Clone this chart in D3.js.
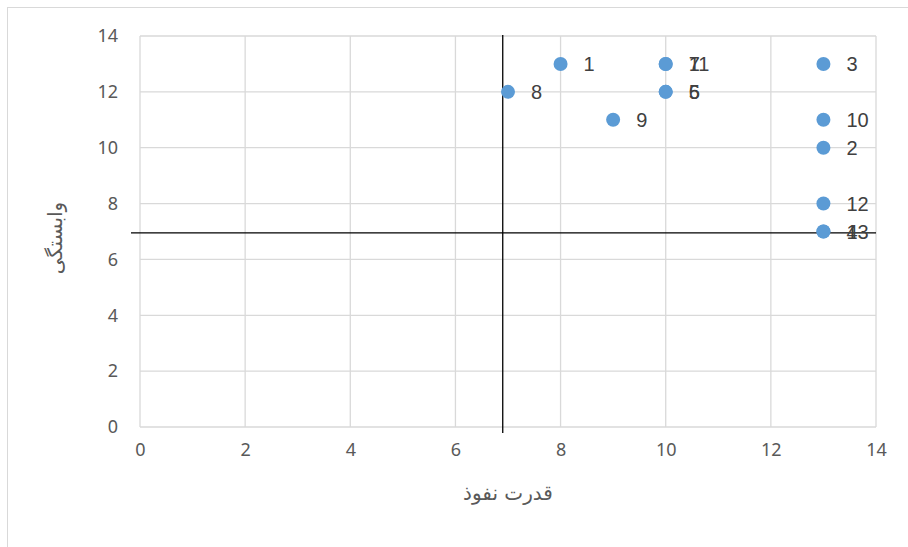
<!DOCTYPE html>
<html>
<head>
<meta charset="utf-8">
<script src="https://cdn.jsdelivr.net/npm/d3@7"></script>
<style>
  body { margin: 0; background: #fff; }
</style>
</head>
<body>
<script>
// point labels and their coordinates
let labels = ["1", "2", "3", "4", "5", "6", "7", "8", "9", "10", "11", "12", "13"];
let xValues = [8, 13, 13, 13, 10, 10, 10, 7, 9, 13, 10, 13, 13];
let yValues = [13, 10, 13, 7, 12, 12, 13, 12, 11, 11, 13, 8, 7];
let xTicks = [0, 2, 4, 6, 8, 10, 12, 14];
let yTicks = [0, 2, 4, 6, 8, 10, 12, 14];
// quadrant dividers
let xDivider = [6.9];
let yDivider = [6.95];
let xTitle = "قدرت نفوذ";
let yTitle = "وابستگی";

let WIDTH = 908, HEIGHT = 547;
let margin = {left: 140, right: 32, top: 36, bottom: 120};

let svg = d3.select("body").append("svg")
    .attr("width", WIDTH)
    .attr("height", HEIGHT);

// outer chart frame
svg.append("rect")
    .attr("x", 7.5).attr("y", 7.5)
    .attr("width", WIDTH + 20).attr("height", HEIGHT + 20)
    .attr("fill", "none")
    .attr("stroke", "#d9d9d9");

let x = d3.scaleLinear().domain([0, 14]).range([margin.left, WIDTH - margin.right]);
let y = d3.scaleLinear().domain([0, 14]).range([HEIGHT - margin.bottom, margin.top]);

// gridlines
let grid = svg.append("g");
grid.selectAll("line.v").data(xTicks).enter().append("line")
    .attr("x1", d => x(d)).attr("x2", d => x(d))
    .attr("y1", y(0)).attr("y2", y(14))
    .attr("stroke", "#d9d9d9").attr("stroke-width", 1.3);
grid.selectAll("line.h").data(yTicks).enter().append("line")
    .attr("x1", x(0)).attr("x2", x(14))
    .attr("y1", d => y(d)).attr("y2", d => y(d))
    .attr("stroke", "#d9d9d9").attr("stroke-width", 1.3);

// tick labels
let tickFont = "'Noto Sans', 'Open Sans', sans-serif";
let xAxis = d3.axisBottom(x).tickValues(xTicks).tickSize(0).tickPadding(16);
let gx = svg.append("g").attr("transform", `translate(0,${y(0)})`).call(xAxis);
let yAxis = d3.axisLeft(y).tickValues(yTicks).tickSize(0).tickPadding(22);
let gy = svg.append("g").attr("transform", `translate(${x(0)},0)`).call(yAxis);
[gx, gy].forEach(g => {
    g.select(".domain").remove();
    g.selectAll("text")
        .attr("fill", "#595959")
        .style("font-family", tickFont)
        .style("font-size", "18px");
});

// quadrant lines
svg.selectAll("line.xdiv").data(xDivider).enter().append("line")
    .attr("x1", d => x(d)).attr("x2", d => x(d))
    .attr("y1", y(14) - 1).attr("y2", y(0) + 6)
    .attr("stroke", "#000").attr("stroke-width", 1.3);
svg.selectAll("line.ydiv").data(yDivider).enter().append("line")
    .attr("x1", x(0) - 9).attr("x2", x(14))
    .attr("y1", d => y(d)).attr("y2", d => y(d))
    .attr("stroke", "#000").attr("stroke-width", 1.3);

// points
let data = labels.map((l, i) => ({label: l, x: xValues[i], y: yValues[i]}));
svg.append("g").selectAll("circle").data(data).enter().append("circle")
    .attr("cx", d => x(d.x)).attr("cy", d => y(d.y))
    .attr("r", 7)
    .attr("fill", "#5b9bd5");

// data labels (they overlap where points coincide, as in the original)
svg.append("g").selectAll("text").data(data).enter().append("text")
    .attr("x", d => x(d.x) + 23)
    .attr("y", d => y(d.y))
    .attr("dy", "0.36em")
    .attr("fill", "#404040")
    .style("font-family", "'Liberation Sans', Arial, sans-serif")
    .style("font-size", "20px")
    .text(d => d.label);

// axis titles
svg.append("text")
    .attr("x", 508).attr("y", 500)
    .attr("text-anchor", "middle")
    .attr("direction", "rtl")
    .attr("fill", "#595959")
    .style("font-family", "'DejaVu Sans', sans-serif")
    .style("font-size", "20px")
    .text(xTitle);

svg.append("text")
    .attr("transform", "translate(55,238) rotate(-90)")
    .attr("text-anchor", "middle")
    .attr("dy", "0.35em")
    .attr("fill", "#595959")
    .style("font-family", "'DejaVu Sans', sans-serif")
    .style("font-size", "20px")
    .text(yTitle);
</script>
</body>
</html>
